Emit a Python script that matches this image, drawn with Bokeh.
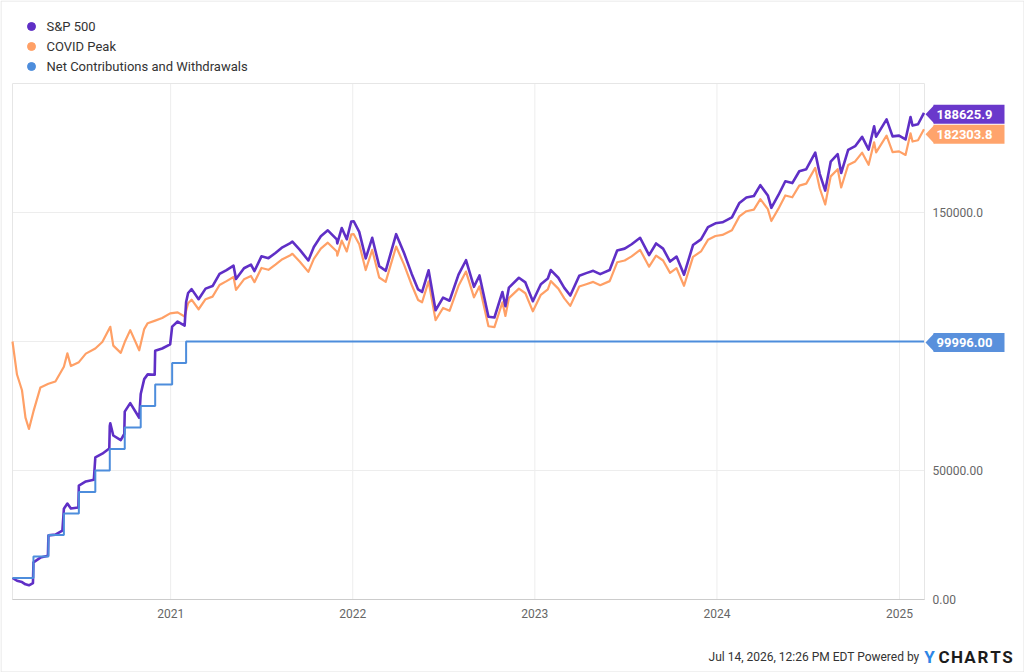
import numpy as np
import pandas as pd
from bokeh.plotting import figure
from bokeh.models import Range1d
from bokeh.core.properties import value
from bokeh.embed import file_html
from bokeh.resources import INLINE

# ---------------- data (portfolio values in thousands of dollars) ----------------
series_names = ["S&P 500", "COVID Peak", "Net Contributions and Withdrawals"]
series_colors = ["#5f2fc6", "#ffa066", "#4d8ddc"]
flag_colors = ["#6a38cb", "#ffa46c", "#5990dc"]

# monthly deposits (cumulative)
contrib_dates = ["2020-02-19", "2020-04-01", "2020-05-01", "2020-06-01", "2020-07-01", "2020-08-03",
                 "2020-09-01", "2020-10-01", "2020-11-02", "2020-12-01", "2021-01-04", "2021-02-01",
                 "2025-02-19"]
contrib_total = [8.333, 16.666, 24.999, 33.332, 41.665, 49.998,
                 58.331, 66.664, 74.997, 83.330, 91.663, 99.996,
                 99.996]

# lump sum invested at the February 2020 top
covid_early_dates = ["2020-02-19", "2020-02-28", "2020-03-09", "2020-03-16", "2020-03-23", "2020-04-01",
                     "2020-04-15", "2020-05-01", "2020-05-15", "2020-06-01", "2020-06-08", "2020-06-15",
                     "2020-07-01", "2020-07-15", "2020-08-03", "2020-08-17", "2020-09-02", "2020-09-08",
                     "2020-09-23", "2020-10-01", "2020-10-12", "2020-10-30", "2020-11-09", "2020-11-16",
                     "2020-12-01", "2020-12-15", "2020-12-31", "2021-01-15", "2021-01-29", "2021-02-05"]
covid_early = [99.996, 87.2, 81.1, 70.5, 66.1, 72.9,
               82.2, 83.6, 84.5, 90.2, 95.4, 90.5,
               92.0, 95.3, 97.3, 99.8, 105.7, 98.4,
               95.6, 99.8, 104.4, 96.6, 104.8, 107.1,
               108.1, 109.1, 110.9, 111.3, 109.7, 114.8]

# dollar-cost averaged S&P 500 account while deposits were still coming in
sp_early_dates = ["2020-02-19", "2020-02-28", "2020-03-09", "2020-03-16", "2020-03-23", "2020-03-31",
                  "2020-04-01", "2020-04-15", "2020-04-30", "2020-05-01", "2020-05-15", "2020-05-29",
                  "2020-06-01", "2020-06-08", "2020-06-15", "2020-06-30", "2020-07-01", "2020-07-15",
                  "2020-07-31", "2020-08-03", "2020-08-17", "2020-08-31", "2020-09-01", "2020-09-02",
                  "2020-09-08", "2020-09-23", "2020-09-30", "2020-10-01", "2020-10-12", "2020-10-30",
                  "2020-11-02", "2020-11-09", "2020-11-16", "2020-11-30", "2020-12-01", "2020-12-15",
                  "2020-12-31", "2021-01-04", "2021-01-15", "2021-01-29", "2021-02-01", "2021-02-05"]
sp_early = [8.33, 7.27, 6.76, 5.87, 5.51, 6.36,
            14.41, 16.24, 16.99, 24.85, 25.14, 26.73,
            35.16, 37.19, 35.28, 35.67, 44.18, 45.75,
            46.39, 55.05, 56.51, 58.50, 67.28, 68.29,
            63.56, 61.75, 64.15, 72.81, 76.13, 70.44,
            79.64, 85.41, 87.26, 87.14, 96.44, 97.28,
            98.91, 105.77, 107.72, 106.17, 115.3, 118.8]

# both accounts once fully funded
market_dates = [
    "2021-02-12", "2021-02-26", "2021-03-12", "2021-03-26", "2021-04-09", "2021-04-23", "2021-05-07",
    "2021-05-12", "2021-05-28", "2021-06-11", "2021-06-18", "2021-07-02", "2021-07-16", "2021-07-30",
    "2021-08-13", "2021-08-27", "2021-09-02", "2021-09-17", "2021-10-04", "2021-10-15", "2021-10-29",
    "2021-11-12", "2021-11-30", "2021-12-01", "2021-12-10", "2021-12-20", "2021-12-29",
    "2022-01-03", "2022-01-14", "2022-01-27", "2022-02-09", "2022-02-23", "2022-03-08", "2022-03-29",
    "2022-04-14", "2022-04-29", "2022-05-12", "2022-05-20", "2022-06-02", "2022-06-16", "2022-07-01",
    "2022-07-14", "2022-08-01", "2022-08-16", "2022-09-01", "2022-09-12", "2022-09-30", "2022-10-12",
    "2022-10-28", "2022-11-03", "2022-11-10", "2022-11-30", "2022-12-13", "2022-12-28",
    "2023-01-13", "2023-01-27", "2023-02-02", "2023-02-17", "2023-03-01", "2023-03-13", "2023-03-31",
    "2023-04-14", "2023-04-28", "2023-05-12", "2023-05-31", "2023-06-15", "2023-06-30", "2023-07-14",
    "2023-07-31", "2023-08-18", "2023-09-01", "2023-09-15", "2023-09-29", "2023-10-12", "2023-10-27",
    "2023-11-14", "2023-11-30", "2023-12-14", "2023-12-29",
    "2024-01-12", "2024-01-31", "2024-02-15", "2024-02-29", "2024-03-15", "2024-03-28", "2024-04-12",
    "2024-04-19", "2024-05-03", "2024-05-17", "2024-05-31", "2024-06-14", "2024-06-28", "2024-07-16",
    "2024-07-25", "2024-08-05", "2024-08-16", "2024-08-30", "2024-09-06", "2024-09-20", "2024-10-04",
    "2024-10-18", "2024-10-31", "2024-11-11", "2024-11-15", "2024-12-06", "2024-12-18", "2024-12-31",
    "2025-01-13", "2025-01-23", "2025-01-27", "2025-02-07", "2025-02-19"]
covid_late = [
    116.2, 112.5, 116.4, 117.4, 121.9, 123.4, 125.0, 120.0, 124.1, 125.4, 123.0, 128.5, 127.8, 129.8,
    131.9, 133.2, 134.0, 130.9, 127.0, 132.0, 136.0, 138.3, 134.9, 133.3, 139.1, 134.9, 141.5,
    141.6, 137.7, 127.7, 135.5, 124.8, 123.1, 136.8, 129.7, 122.0, 116.1, 115.2, 123.3, 108.3, 113.0,
    111.9, 121.6, 127.1, 117.1, 121.4, 105.9, 105.6, 115.2, 109.9, 116.8, 120.5, 118.7, 111.7,
    118.1, 120.2, 123.4, 120.5, 116.7, 113.8, 121.3, 122.2, 123.1, 121.8, 123.4, 130.7, 131.4, 133.0,
    135.5, 129.0, 133.3, 131.4, 126.6, 128.4, 121.6, 132.8, 134.9, 139.4, 140.9,
    141.3, 143.1, 148.5, 150.5, 151.1, 155.2, 151.3, 146.7, 151.4, 156.6, 155.9, 160.4, 161.2, 167.3,
    159.4, 153.1, 164.0, 166.8, 159.7, 168.4, 169.8, 173.2, 168.5, 177.2, 173.3, 179.8, 173.4, 173.7,
    172.3, 180.7, 177.5, 178.0, 182.3038]
sp_late = [
    120.3, 116.4, 120.5, 121.5, 126.2, 127.7, 129.4, 124.2, 128.4, 129.8, 127.3, 133.0, 132.3, 134.3,
    136.5, 137.9, 138.7, 135.5, 131.4, 136.6, 140.8, 143.1, 139.6, 138.0, 144.0, 139.6, 146.5,
    146.6, 142.5, 132.2, 140.2, 129.2, 127.4, 141.6, 134.2, 126.3, 120.2, 119.2, 127.6, 112.1, 117.0,
    115.8, 125.9, 131.5, 121.2, 125.6, 109.6, 109.3, 119.2, 113.7, 120.9, 124.7, 122.9, 115.6,
    122.2, 124.4, 127.7, 124.7, 120.8, 117.8, 125.5, 126.5, 127.4, 126.1, 127.7, 135.3, 136.0, 137.7,
    140.2, 133.5, 138.0, 136.0, 131.0, 132.9, 125.9, 137.4, 139.6, 144.3, 145.8,
    146.2, 148.1, 153.7, 155.8, 156.4, 160.6, 156.6, 151.8, 156.7, 162.1, 161.4, 166.0, 166.8, 173.2,
    165.0, 158.5, 169.7, 172.6, 165.3, 174.3, 175.7, 179.3, 174.4, 183.4, 179.4, 186.1, 179.5, 179.8,
    178.3, 187.0, 183.7, 184.2, 188.6259]

flag_texts = ["188625.9", "182303.8", "99996.00"]

year_ticks = ["2021-01-01", "2022-01-01", "2023-01-01", "2024-01-01", "2025-01-01"]
year_labels = ["2021", "2022", "2023", "2024", "2025"]
y_tick_values = [0, 50000, 100000, 150000]
y_tick_labels = ["0.00", "50000.00", "100000.0", "150000.0"]

footer_text = "Jul 14, 2026, 12:26 PM EDT Powered by"
brand_letters = ["Y", "C", "H", "A", "R", "T", "S"]
brand_colors = ["#2e86e6"] + ["#1c1c1c"] * 6

x_start, x_end = "2020-02-19", "2025-02-20"
y_max = 200000

# ---------------- canvas geometry ----------------
W, H = 1024, 672
PLOT_L, PLOT_R, PLOT_T, PLOT_B = 12, 924, 83, 599
FONT = value("Roboto")

def to_ms(dates):
    return (pd.to_datetime(dates).astype("int64") // 10**6).to_numpy().astype(float)

ms0, ms1 = to_ms([x_start, x_end])
ms_per_px = (ms1 - ms0) / (PLOT_R - PLOT_L)
units_per_px = y_max / (PLOT_B - PLOT_T)

def X(px):
    """canvas pixel column -> time coordinate"""
    return ms0 + (px - PLOT_L) * ms_per_px

def Y(py):
    """canvas pixel row -> value coordinate"""
    return (PLOT_B - py) * units_per_px

p = figure(width=W, height=H,
           x_range=Range1d(X(0), X(W)), y_range=Range1d(Y(H), Y(0)),
           min_border=0, x_axis_location=None, y_axis_location=None,
           output_backend="svg", toolbar_location=None)
p.outline_line_color = None
p.background_fill_color = "white"
p.border_fill_color = "white"
p.grid.grid_line_color = None

# light page border
p.quad(left=X(0.5), right=X(W - 0.5), bottom=Y(H - 0.5), top=Y(0.5),
       fill_color=None, line_color="#e3e3e3", line_width=1)

# ---------------- grid, frame and axes ----------------
year_ms = to_ms(year_ticks)
p.segment(x0=year_ms, y0=np.zeros(len(year_ms)), x1=year_ms, y1=np.full(len(year_ms), y_max),
          line_color="#ededed", line_width=1)
p.segment(x0=np.full(len(y_tick_values), ms0), y0=y_tick_values,
          x1=np.full(len(y_tick_values), ms1), y1=y_tick_values,
          line_color="#ededed", line_width=1)
p.quad(left=ms0, right=ms1, bottom=0, top=y_max, fill_color=None,
       line_color="#e6e6e6", line_width=1)
p.segment(x0=[ms0], y0=[0], x1=[ms1], y1=[0], line_color="#cccccc", line_width=1)

# x tick labels
p.text(x=year_ms, y=np.full(len(year_ms), Y(PLOT_B + 9)), text=year_labels,
       text_font=FONT, text_font_size="12px", text_color="#666666",
       text_align="center", text_baseline="top")
# y tick labels (right side, sitting on their grid line)
p.text(x=np.full(len(y_tick_values), X(PLOT_R + 8)), y=y_tick_values, text=y_tick_labels,
       text_font=FONT, text_font_size="12px", text_color="#666666",
       text_align="left", text_baseline="alphabetic")

# ---------------- series ----------------
k = 1000.0
covid_x = to_ms(covid_early_dates + market_dates)
covid_y = np.array(covid_early + covid_late) * k
sp_x = to_ms(sp_early_dates + market_dates)
sp_y = np.array(sp_early + sp_late) * k

p.line(covid_x, covid_y, color=series_colors[1], line_width=2.2, line_join="round")
p.line(sp_x, sp_y, color=series_colors[0], line_width=2.6, line_join="round")
p.step(to_ms(contrib_dates), np.array(contrib_total) * k, mode="after",
       color=series_colors[2], line_width=2)

# ---------------- legend ----------------
leg_rows = [26, 46, 66]
p.scatter(x=np.full(3, X(31)), y=[Y(r) for r in leg_rows], size=8, color=series_colors)
p.text(x=np.full(3, X(46)), y=[Y(r) for r in leg_rows], text=series_names,
       text_font=FONT, text_font_size="13px", text_color="#333333",
       text_align="left", text_baseline="middle")

# ---------------- value flags on the right edge ----------------
last_values = [sp_y[-1], covid_y[-1], contrib_total[-1] * k]
flag_shift_px = [1.5, 5, 1]
tri_xs, tri_ys, centers = [], [], []
for val, shift in zip(last_values, flag_shift_px):
    yc = val - shift * units_per_px
    half = 9.5 * units_per_px
    centers.append(yc)
    tri_xs.append([X(PLOT_R + 1), X(PLOT_R + 10), X(PLOT_R + 10)])
    tri_ys.append([yc, yc + half, yc - half])
centers = np.array(centers)
p.patches(tri_xs, tri_ys, fill_color=flag_colors, line_color=None)
p.quad(left=np.full(3, X(PLOT_R + 9)), right=np.full(3, X(1004)),
       bottom=centers - 9.5 * units_per_px, top=centers + 9.5 * units_per_px,
       fill_color=flag_colors, line_color=None)
p.text(x=np.full(3, X(PLOT_R + 12)), y=centers, text=flag_texts,
       text_font=FONT, text_font_size="13px", text_font_style="bold", text_color="white",
       text_align="left", text_baseline="middle")

# ---------------- footer ----------------
p.text(x=[X(919)], y=[Y(656)], text=[footer_text],
       text_font=FONT, text_font_size="12px", text_color="#333333",
       text_align="right", text_baseline="middle")
brand_px = [929, 943.5, 956.5, 969.5, 982.5, 995, 1007]
p.text(x=[X(v) for v in brand_px], y=np.full(len(brand_px), Y(656)), text=brand_letters,
       text_font=FONT, text_font_size="17px", text_font_style="bold", text_color=brand_colors,
       text_align="center", text_baseline="middle")

open("out.html", "w").write(file_html(p, INLINE))
